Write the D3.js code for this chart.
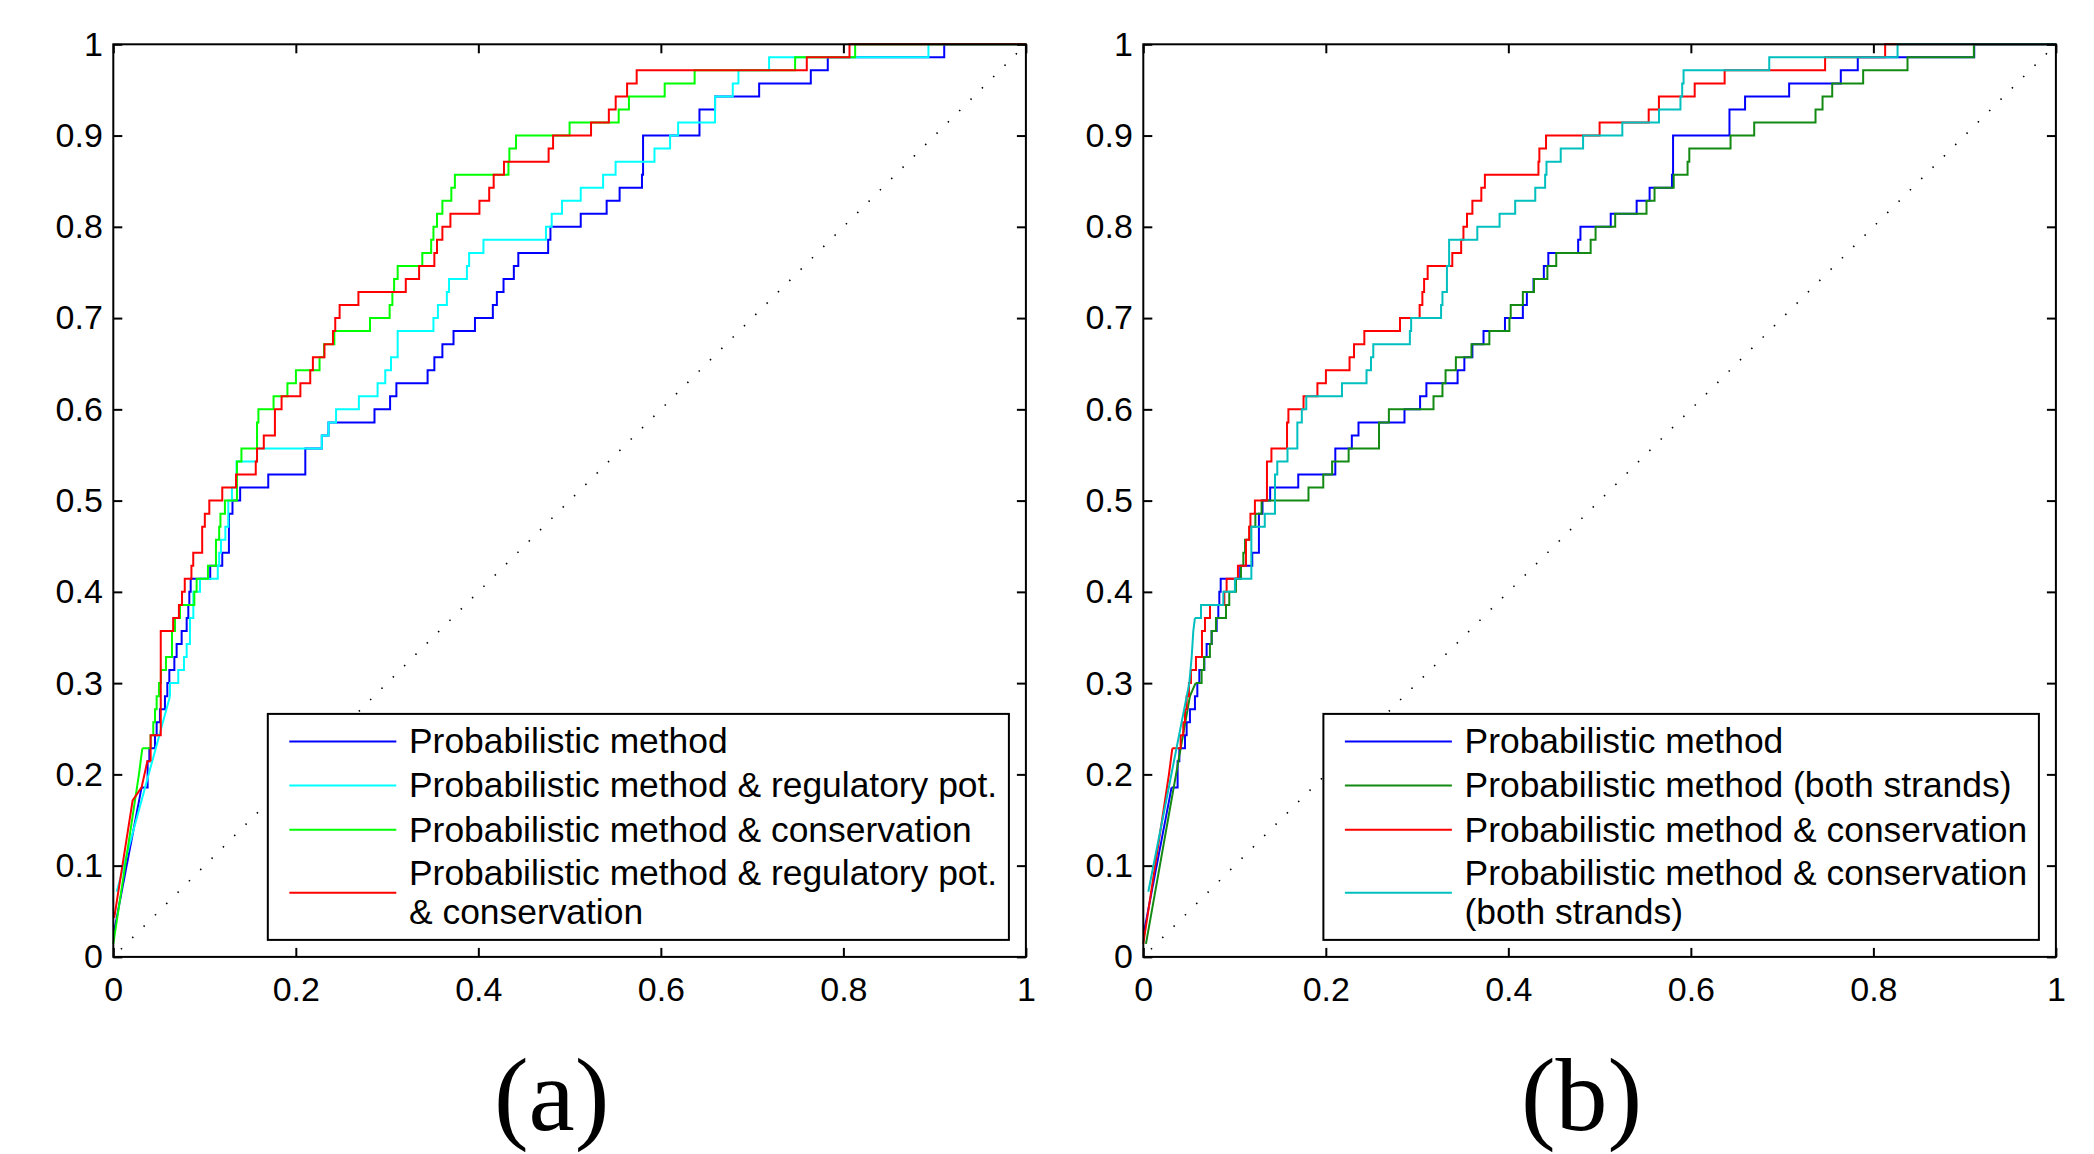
<!DOCTYPE html>
<html>
<head>
<meta charset="utf-8">
<script src="https://cdn.jsdelivr.net/npm/d3@7/dist/d3.min.js"></script>
<style>
    body { margin: 0; background: #fff; }
    svg { display: block; font-family: 'Liberation Sans', Arial, sans-serif; }
</style>
</head>
<body>
<script>
// ROC points: [false positive rate, true positives out of nPositives]
// *Head = straight segments near the origin, *Steps = staircase part
var nPositives = 70;

var xTicks = [0, 0.2, 0.4, 0.6, 0.8, 1];
var yTicks = [0, 0.1, 0.2, 0.3, 0.4, 0.5, 0.6, 0.7, 0.8, 0.9, 1];

var probHead = [[0.001, 2], [0.031, 13]];
var probSteps = [[0.031, 13], [0.0376, 15], [0.0395, 16], [0.0457, 17], [0.0475, 18], [0.0511, 19], [0.0566, 20],
    [0.0592, 21], [0.0614, 22], [0.0669, 23], [0.0694, 24], [0.0749, 25], [0.0804, 26], [0.0822, 27], [0.0833, 28],
    [0.0848, 29], [0.1062, 30], [0.1194, 31], [0.1267, 34], [0.1306, 35], [0.139, 36], [0.1698, 37], [0.2104, 39],
    [0.2285, 40], [0.2358, 41], [0.2862, 42], [0.3033, 43], [0.3102, 44], [0.3444, 45], [0.3518, 46], [0.3606, 47],
    [0.3728, 48], [0.3963, 49], [0.4159, 50], [0.4203, 51], [0.4276, 52], [0.4389, 53], [0.4438, 54], [0.4765, 55],
    [0.479, 56], [0.5122, 57], [0.5406, 58], [0.5548, 59], [0.5793, 60], [0.5805, 63], [0.6423, 65], [0.6594, 66],
    [0.7077, 67], [0.7643, 68], [0.7829, 69], [0.9105, 70], [1, 70]];

var probRegHead = [[0.0037, 5], [0.0621, 20]];
var probRegSteps = [[0.0621, 20], [0.0621, 21], [0.0712, 22], [0.0775, 23], [0.0804, 24], [0.084, 26], [0.0877, 28],
    [0.095, 29], [0.1145, 30], [0.116, 31], [0.118, 32], [0.1228, 33], [0.126, 35], [0.13, 36], [0.135, 38],
    [0.1575, 39], [0.2285, 40], [0.2358, 41], [0.2441, 42], [0.2691, 43], [0.2896, 44], [0.298, 45], [0.3043, 46],
    [0.3116, 48], [0.3508, 49], [0.3557, 50], [0.3655, 51], [0.3679, 52], [0.3875, 53], [0.3899, 54], [0.4056, 55],
    [0.4741, 56], [0.4804, 57], [0.4917, 58], [0.5122, 59], [0.5367, 60], [0.5504, 61], [0.593, 62], [0.6101, 63],
    [0.6189, 64], [0.6594, 66], [0.6788, 67], [0.685, 68], [0.7186, 69], [0.8932, 70], [1, 70]];

var probConsHead = [[0, 1], [0.0281, 14], [0.0318, 16]];
var probConsSteps = [[0.0318, 16], [0.0409, 17], [0.0438, 18], [0.0457, 19], [0.0475, 20], [0.05, 21], [0.0522, 22],
    [0.0577, 23], [0.0643, 25], [0.0676, 26], [0.0731, 27], [0.0888, 28], [0.0913, 29], [0.1037, 30], [0.1125, 32],
    [0.116, 33], [0.1174, 34], [0.1223, 35], [0.1355, 38], [0.1404, 39], [0.1575, 41], [0.159, 42], [0.1756, 43],
    [0.1908, 44], [0.2001, 45], [0.226, 46], [0.2309, 47], [0.2422, 48], [0.2813, 49], [0.3028, 50], [0.3058, 51],
    [0.3077, 52], [0.3116, 53], [0.3386, 54], [0.3483, 55], [0.3508, 56], [0.3547, 57], [0.3606, 58], [0.3704, 59],
    [0.3743, 60], [0.433, 61], [0.434, 62], [0.4413, 63], [0.5, 64], [0.5538, 65], [0.565, 66], [0.6042, 67],
    [0.637, 68], [0.7471, 69], [0.8129, 70], [1, 70]];

var probRegConsHead = [[0.001, 3], [0.0212, 12], [0.031, 13], [0.0373, 15], [0.0409, 15]];
var probRegConsSteps = [[0.0409, 15], [0.0409, 17], [0.052, 25], [0.0656, 26], [0.0719, 27], [0.0753, 28],
    [0.0783, 29], [0.0856, 30], [0.0876, 31], [0.0974, 33], [0.1003, 34], [0.1052, 35], [0.1194, 36], [0.1345, 37],
    [0.1561, 38], [0.1575, 39], [0.1649, 40], [0.1771, 42], [0.1844, 43], [0.205, 44], [0.2158, 45], [0.2187, 46],
    [0.2314, 47], [0.2407, 48], [0.2432, 49], [0.248, 50], [0.2686, 51], [0.3205, 52], [0.3351, 53], [0.3518, 54],
    [0.3547, 55], [0.3606, 56], [0.3694, 57], [0.4012, 58], [0.4119, 59], [0.4168, 60], [0.4281, 61], [0.477, 62],
    [0.4819, 63], [0.5235, 64], [0.543, 65], [0.5505, 66], [0.563, 67], [0.5735, 68], [0.7599, 69], [0.8067, 70],
    [1, 70]];

var probBothHead = [[0.0029, 1], [0.0511, 20], [0.0573, 21]];
var probBothSteps = [[0.0573, 21], [0.0639, 22], [0.0665, 23], [0.073, 24], [0.0749, 25], [0.0796, 26], [0.0906, 27],
    [0.0942, 28], [0.1015, 29], [0.107, 30], [0.1096, 31], [0.1115, 32], [0.1164, 33], [0.1228, 34], [0.1296, 35],
    [0.181, 36], [0.1972, 37], [0.2069, 38], [0.225, 39], [0.2583, 41], [0.2691, 42], [0.318, 43], [0.3278, 44],
    [0.3312, 45], [0.3425, 46], [0.3596, 47], [0.3792, 48], [0.4012, 49], [0.4026, 50], [0.4159, 51], [0.4281, 52],
    [0.4428, 53], [0.4525, 54], [0.4902, 55], [0.4956, 56], [0.5171, 57], [0.5514, 58], [0.5602, 59], [0.5812, 60],
    [0.5964, 61], [0.5983, 62], [0.6435, 63], [0.6694, 64], [0.7366, 65], [0.7443, 66], [0.7549, 67], [0.7888, 68],
    [0.8374, 69], [0.9101, 70], [1, 70]];

var probConsBothHead = [[0.0055, 5], [0.0504, 21], [0.053, 23], [0.0548, 25], [0.0566, 26]];
var probConsBothSteps = [[0.0566, 26], [0.0632, 27], [0.0877, 28], [0.1004, 29], [0.1184, 33], [0.1331, 34],
    [0.1443, 37], [0.1468, 38], [0.158, 39], [0.1688, 41], [0.1737, 42], [0.1786, 43], [0.2177, 44], [0.2446, 45],
    [0.2495, 46], [0.252, 47], [0.2921, 48], [0.2935, 49], [0.3263, 50], [0.3278, 51], [0.3327, 53], [0.3351, 55],
    [0.366, 56], [0.3904, 57], [0.4075, 58], [0.4295, 59], [0.4403, 60], [0.4418, 61], [0.4574, 62], [0.4819, 63],
    [0.5249, 64], [0.5651, 65], [0.5886, 66], [0.5905, 67], [0.592, 68], [0.6859, 69], [0.8265, 70], [1, 70]];

var seriesA = [
    {label: ['Probabilistic method'], color: '#0000ff', head: probHead, steps: probSteps},
    {label: ['Probabilistic method & regulatory pot.'], color: '#00ffff', head: probRegHead, steps: probRegSteps},
    {label: ['Probabilistic method & conservation'], color: '#00ff00', head: probConsHead, steps: probConsSteps},
    {label: ['Probabilistic method & regulatory pot.', '& conservation'], color: '#ff0000', head: probRegConsHead, steps: probRegConsSteps}
];
var seriesB = [
    {label: ['Probabilistic method'], color: '#0000ff', head: probHead, steps: probSteps},
    {label: ['Probabilistic method (both strands)'], color: '#138a13', head: probBothHead, steps: probBothSteps},
    {label: ['Probabilistic method & conservation'], color: '#ff0000', head: probConsHead, steps: probConsSteps},
    {label: ['Probabilistic method & conservation', '(both strands)'], color: '#00bfbf', head: probConsBothHead, steps: probConsBothSteps}
];

var svg = d3.select('body').append('svg')
        .attr('width', 2094)
        .attr('height', 1154),
    plotTop = 44.3,
    size = 912.6,
    tickLen = 9,
    fmt = d3.format('~g');

function drawPanel(left, series, caption) {
    var g = svg.append('g').attr('transform', 'translate(' + left + ',' + plotTop + ')'),
        x = d3.scaleLinear().domain([0, 1]).range([0, size]),
        y = d3.scaleLinear().domain([0, 1]).range([size, 0]),
        straight = d3.line()
            .x(function(d) { return x(d[0]); })
            .y(function(d) { return y(d[1] / nPositives); }),
        stairs = d3.line()
            .x(function(d) { return x(d[0]); })
            .y(function(d) { return y(d[1] / nPositives); })
            .curve(d3.curveStepAfter);

    // chance diagonal
    g.append('line')
        .attr('x1', x(0)).attr('y1', y(0))
        .attr('x2', x(1)).attr('y2', y(1))
        .attr('stroke', '#000')
        .attr('stroke-width', 1.6)
        .attr('stroke-dasharray', '1.5 14.52')
        .attr('stroke-dashoffset', -10.8);

    var curves = g.selectAll('g.curve')
        .data(series)
        .enter()
        .append('g')
        .attr('class', 'curve')
        .attr('fill', 'none')
        .attr('stroke', function(d) { return d.color; })
        .attr('stroke-width', 2);

    curves.append('path').attr('d', function(d) { return straight(d.head); });
    curves.append('path').attr('d', function(d) { return stairs(d.steps); });

    // axes, ticks point inward on all four sides
    var axes = [
        {axis: d3.axisBottom(x).tickValues(xTicks).tickFormat(fmt), at: [0, size], bottom: true},
        {axis: d3.axisTop(x).tickValues(xTicks).tickFormat(''), at: [0, 0]},
        {axis: d3.axisLeft(y).tickValues(yTicks).tickFormat(fmt), at: [0, 0]},
        {axis: d3.axisRight(y).tickValues(yTicks).tickFormat(''), at: [size, 0]}
    ];
    axes.forEach(function(a) {
        var ag = g.append('g')
            .attr('transform', 'translate(' + a.at[0] + ',' + a.at[1] + ')')
            .call(a.axis.tickSizeInner(-tickLen).tickSizeOuter(0).tickPadding(10.5));
        ag.select('.domain').remove();
        ag.selectAll('line').attr('stroke', '#000').attr('stroke-width', 2);
        var labels = ag.selectAll('text')
            .attr('fill', '#000')
            .style('font-size', '34px')
            .style('font-family', "'Liberation Sans', Arial, sans-serif");
        if (a.bottom) {
            labels.attr('dy', null).attr('y', 44.5);
        }
    });

    g.append('rect')
        .attr('width', size)
        .attr('height', size)
        .attr('fill', 'none')
        .attr('stroke', '#000')
        .attr('stroke-width', 2);

    // legend
    var leg = g.append('g'),
        rowBase = [39.3, 83.5, 127.7, 171.5],
        lineGap = 38.3,
        sampleX = 21.5,
        sampleLen = 107,
        textX = sampleX + sampleLen + 12.7,
        box = leg.append('rect')
            .attr('fill', '#fff')
            .attr('stroke', '#000')
            .attr('stroke-width', 2),
        maxW = 0;

    series.forEach(function(s, i) {
        var base = rowBase[i],
            mid = base + (s.label.length - 1) * lineGap / 2 - 11.8;
        leg.append('line')
            .attr('x1', sampleX).attr('x2', sampleX + sampleLen)
            .attr('y1', mid).attr('y2', mid)
            .attr('stroke', s.color)
            .attr('stroke-width', 2);
        s.label.forEach(function(txt, j) {
            var t = leg.append('text')
                .attr('x', textX)
                .attr('y', base + j * lineGap)
                .style('font-size', '35.4px')
                .text(txt);
            maxW = Math.max(maxW, t.node().getComputedTextLength());
        });
    });

    var boxW = textX + maxW + 11.7,
        boxH = 226;
    box.attr('width', boxW).attr('height', boxH);
    leg.attr('transform', 'translate(' + (size - 17 - boxW) + ',' + (size - 17 - boxH) + ')');

    svg.append('text')
        .attr('x', left + size / 2 - 18)
        .attr('y', 1130)
        .attr('text-anchor', 'middle')
        .style('font-family', "'Liberation Serif', 'Times New Roman', serif")
        .style('font-size', '104px')
        .text(caption);
}

drawPanel(113.3, seriesA, '(a)');
drawPanel(1143.3, seriesB, '(b)');
</script>
</body>
</html>
